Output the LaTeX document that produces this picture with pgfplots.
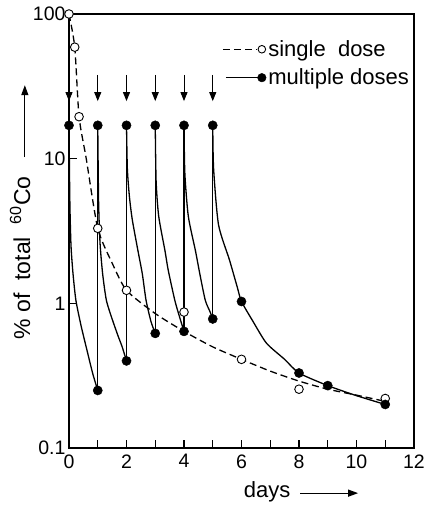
\documentclass[border=0pt]{standalone}
\usepackage{fontspec}
\setmainfont{Liberation Sans}
\usepackage{pgfplots}
\pgfplotsset{compat=1.18}
\usetikzlibrary{arrows.meta}

\begin{document}
\begin{tikzpicture}
\path[use as bounding box] (-69pt,-58pt) rectangle (356pt,448pt);
\begin{axis}[
  at={(0pt,0pt)}, anchor=south west,
  scale only axis, width=345pt, height=434pt,
  ymode=log, xmin=0, xmax=12, ymin=0.1, ymax=100,
  xtick={0,1,2,3,4,5,6,7,8,9,10,11,12},
  xticklabels={0,,2,,4,,6,,8,,10,,12},
  ytick={0.1,1,10,100}, yticklabels={0.1,1,10,100},
  yminorticks=false,
  tick pos=left, tick align=inside, major tick length=8pt,
  axis line style={line width=1.2pt},
  every tick/.style={black, line width=1.1pt},
  /pgf/number format/assume math mode=true,
  ticklabel style={font=\fontsize{19.5}{19.5}\selectfont},
  xticklabel style={yshift=-3pt},
  legend style={at={(0.4435,0.886)}, anchor=west, draw=none, fill=none,
    inner sep=0pt, row sep=7pt, font=\fontsize{22}{22}\selectfont,
    nodes={inner sep=2pt}},
  legend cell align=left,
  clip=false,
]
% single dose, dashed curve
\addplot[forget plot, black, line width=1.3pt, dash pattern=on 7pt off 4pt, smooth, tension=0.4]
  coordinates {(0,100) (0.2,59) (0.35,19.5) (0.6,10) (1,3.3) (1.5,1.9) (2,1.23) (3,0.85)
  (4,0.64) (5,0.5) (6,0.41) (7,0.34) (8,0.29) (9,0.255) (10,0.232) (11,0.21)};
% multiple doses, decay segments
\addplot[forget plot, black, line width=1.3pt, smooth, tension=0.4]
  coordinates {(0,17) (0.03,5) (0.07,2.5) (0.14,1.6) (0.24,1.05) (0.42,0.7) (0.63,0.47) (0.82,0.33) (1,0.25)};
\addplot[forget plot, black, line width=1.3pt, smooth, tension=0.4]
  coordinates {(1,17) (1.03,5) (1.08,2.6) (1.17,1.6) (1.3,1.05) (1.5,0.78) (1.7,0.6) (1.85,0.5) (2,0.4)};
\addplot[forget plot, black, line width=1.3pt, smooth, tension=0.4]
  coordinates {(2,17) (2.03,8.5) (2.1,5.5) (2.2,3.8) (2.4,2.3) (2.55,1.6) (2.68,1.05) (2.85,0.75) (3,0.62)};
\addplot[forget plot, black, line width=1.3pt, smooth, tension=0.4]
  coordinates {(3,17) (3.03,7) (3.12,4) (3.34,2.3) (3.45,1.7) (3.68,1.05) (3.85,0.8) (4,0.64)};
\addplot[forget plot, black, line width=1.3pt, smooth, tension=0.4]
  coordinates {(4,17) (4.03,7.9) (4.15,4) (4.4,2.3) (4.55,1.6) (4.74,1.05) (4.9,0.88) (5,0.78)};
\addplot[forget plot, black, line width=1.3pt, smooth, tension=0.4]
  coordinates {(5,17) (5.03,8.5) (5.2,3.5) (5.58,2.0) (5.85,1.3) (6,1.03) (6.4,0.75) (6.87,0.53)
  (7.5,0.41) (8,0.33) (9,0.27) (10,0.23) (11,0.2)};
% vertical rises at each dose
\addplot[forget plot, black, line width=1.3pt] coordinates {(1,0.25) (1,17)};
\addplot[forget plot, black, line width=1.3pt] coordinates {(2,0.40) (2,17)};
\addplot[forget plot, black, line width=1.3pt] coordinates {(3,0.62) (3,17)};
\addplot[forget plot, black, line width=1.3pt] coordinates {(4,0.64) (4,17)};
\addplot[forget plot, black, line width=1.3pt] coordinates {(5,0.78) (5,17)};
% marks
\addplot[forget plot, only marks, mark=*, mark size=4.3pt, mark options={fill=white, draw=black, line width=0.9pt}]
  coordinates {(0,100) (0.2,59) (0.35,19.5) (1,3.3) (2,1.23) (4,0.87) (6,0.41) (8,0.255) (11,0.22)};
\addplot[forget plot, only marks, mark=*, mark size=4.6pt, mark options={fill=black, draw=black}]
  coordinates {(0,17) (1,17) (2,17) (3,17) (4,17) (5,17) (1,0.25) (2,0.40) (3,0.62) (4,0.64)
  (5,0.78) (6,1.03) (8,0.33) (9,0.27) (11,0.2)};
% dose arrows
\draw[-{Triangle[length=9pt,width=7pt]}, line width=0.9pt] (axis cs:0,38) -- (axis cs:0,25);
\draw[-{Triangle[length=9pt,width=7pt]}, line width=0.9pt] (axis cs:1,38) -- (axis cs:1,25);
\draw[-{Triangle[length=9pt,width=7pt]}, line width=0.9pt] (axis cs:2,38) -- (axis cs:2,25);
\draw[-{Triangle[length=9pt,width=7pt]}, line width=0.9pt] (axis cs:3,38) -- (axis cs:3,25);
\draw[-{Triangle[length=9pt,width=7pt]}, line width=0.9pt] (axis cs:4,38) -- (axis cs:4,25);
\draw[-{Triangle[length=9pt,width=7pt]}, line width=0.9pt] (axis cs:5,38) -- (axis cs:5,25);
% legend
\addlegendimage{legend image code/.code={
  \draw[black, dash pattern=on 7pt off 4pt, line width=1.3pt] (0pt,0pt) -- (34pt,0pt);
  \draw[black, solid, fill=white, line width=0.9pt] (39pt,0pt) circle (3.8pt);}}
\addlegendentry{single\ \ dose}
\addlegendimage{legend image code/.code={
  \draw[black, solid, line width=1.3pt] (3pt,0pt) -- (36pt,0pt);
  \fill[black] (39pt,0pt) circle (4.3pt);}}
\addlegendentry{multiple doses}
% axis labels
\node[font=\fontsize{22}{22}\selectfont, anchor=center] at (axis description cs:0.574,-0.101) {days};
\draw[-{Triangle[length=10pt,width=7pt]}, line width=1.2pt] (axis description cs:0.670,-0.104) -- (axis description cs:0.838,-0.104);
\node[font=\fontsize{23}{23}\selectfont, rotate=90, anchor=center] at (axis description cs:-0.142,0.438) {\%\ of\ \ total\ \ \textsuperscript{60}Co};
\draw[-{Triangle[length=10pt,width=7pt]}, line width=1.2pt] (axis description cs:-0.128,0.670) -- (axis description cs:-0.128,0.836);
\end{axis}
\end{tikzpicture}
\end{document}
